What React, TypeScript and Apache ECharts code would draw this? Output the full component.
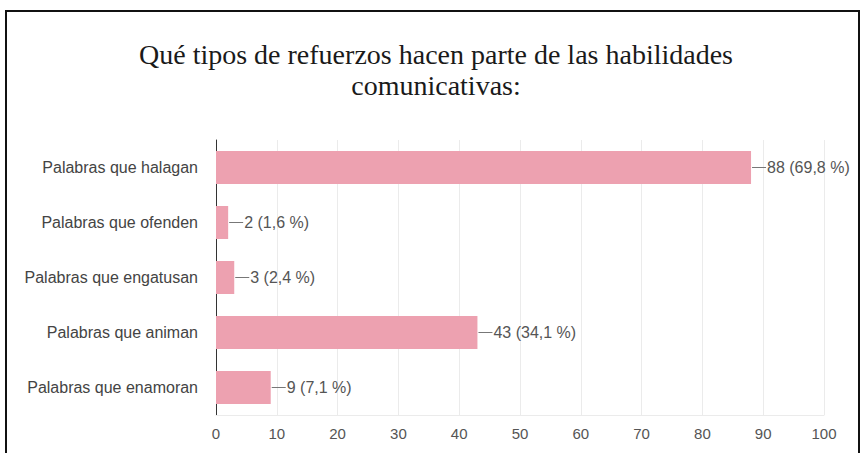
import React, { useEffect, useRef } from "react";
import * as echarts from "echarts";

const titleText = "Qué tipos de refuerzos hacen parte de las habilidades\ncomunicativas:";
const categories = [
  "Palabras que halagan",
  "Palabras que ofenden",
  "Palabras que engatusan",
  "Palabras que animan",
  "Palabras que enamoran",
];
const counts = [88, 2, 3, 43, 9];
const percents = ["69,8", "1,6", "2,4", "34,1", "7,1"];
const axisMin = 0;
const axisMax = 100;
const axisInterval = 10;

const SANS = "'Liberation Sans', Arial, sans-serif";

export default function App() {
  const ref = useRef<HTMLDivElement>(null);
  useEffect(() => {
    if (!ref.current) return;
    const chart = echarts.init(ref.current, undefined, { renderer: "svg" });
    chart.setOption({
      animation: false,
      backgroundColor: "#ffffff",
      title: {
        text: titleText,
        left: 431,
        top: 34,
        textAlign: "center",
        textStyle: {
          fontFamily: "'Liberation Serif', 'Times New Roman', serif",
          fontSize: 28,
          lineHeight: 31,
          fontWeight: "normal",
          color: "#1a1a1a",
        },
      },
      graphic: [
        {
          type: "rect",
          shape: { x: 6, y: 11, width: 853, height: 470 },
          style: { fill: "none", stroke: "#111111", lineWidth: 2 },
          silent: true,
        },
      ],
      grid: { left: 216, right: 39, top: 140, bottom: 38, containLabel: false },
      xAxis: {
        type: "value",
        min: axisMin,
        max: axisMax,
        interval: axisInterval,
        axisLine: { show: true, lineStyle: { color: "#ebebeb", width: 1 } },
        axisTick: { show: false },
        splitLine: { show: true, lineStyle: { color: "#ebebeb", width: 1 } },
        axisLabel: {
          color: "#555555",
          fontFamily: SANS,
          fontSize: 15,
          margin: 11,
        },
      },
      yAxis: {
        type: "category",
        data: categories,
        inverse: true,
        axisLine: { show: true, onZero: false, lineStyle: { color: "#333333", width: 1 } },
        axisTick: { show: false },
        splitLine: { show: false },
        axisLabel: {
          color: "#444444",
          fontFamily: SANS,
          fontSize: 16,
          margin: 18,
        },
      },
      series: [
        {
          type: "bar",
          data: counts,
          barWidth: "60%",
          itemStyle: { color: "#eda1b0" },
          label: {
            show: true,
            position: "right",
            distance: 1,
            formatter: (p: any) => `{ln|}{v|${counts[p.dataIndex]} (${percents[p.dataIndex]} %)}`,
            rich: {
              ln: { width: 14, height: 1, backgroundColor: "#777777" },
              v: { color: "#555555", fontFamily: SANS, fontSize: 16, padding: [0, 0, 0, 1] },
            },
          },
        },
      ],
    });
    return () => chart.dispose();
  }, []);
  return (
    <div
      ref={ref}
      style={{ position: "fixed", left: 0, top: 0, width: 863, height: 453 }}
    />
  );
}
